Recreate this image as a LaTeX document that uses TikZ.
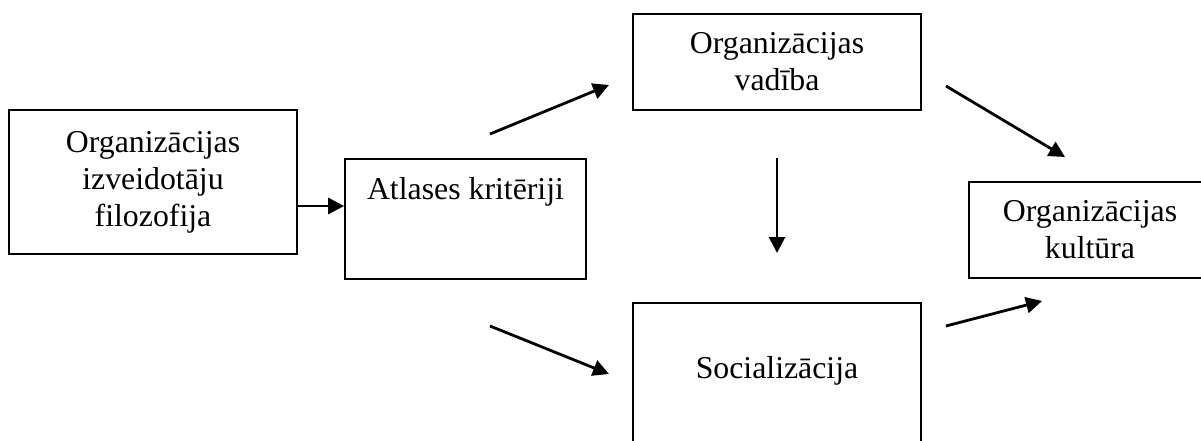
\documentclass[tikz,border=0pt]{standalone}
\usepackage{fontspec}
\setmainfont{Liberation Serif}
\usetikzlibrary{arrows.meta}
\begin{document}
\begin{tikzpicture}[x=1pt,y=-1pt,
  box/.style={draw, line width=1.7pt, inner sep=0pt, align=center,
    font=\fontsize{31.8}{37}\selectfont},
  arr/.style={line width=2.8pt, -{Triangle[length=16pt,width=16pt]}}]
\path[use as bounding box, clip] (0,0) rectangle (1201,441);
\fill[white] (0,0) rectangle (1201,441);

% boxes
\node[box, minimum width=288pt, minimum height=144pt] (fil) at (153,182)
  {Organizācijas\\izveidotāju\\filozofija};
\node[box, minimum width=241pt, text height=41pt, text depth=79pt, anchor=north]
  (atl) at (465.5,158) {Atlases kritēriji};
\node[box, minimum width=288pt, minimum height=96pt] (vad) at (777,62)
  {Organizācijas\\vadība};
\node[box, minimum width=288pt, text height=76pt, text depth=82pt, anchor=north]
  (soc) at (777,302) {Socializācija};
\node[box, minimum width=242pt, minimum height=96pt] (kul) at (1090,230)
  {Organizācijas\\kultūra};

% free arrow ends
\coordinate (filout) at (fil.east |- 0,206);
\coordinate (atlin)  at (atl.west |- 0,206);
\coordinate (atlup)  at (490,134);
\coordinate (vadin)  at (609,85);
\coordinate (atldn)  at (490,326);
\coordinate (socin)  at (609,374);
\coordinate (vaddn)  at (777,158);
\coordinate (socup)  at (777,253);
\coordinate (vadout) at (946,86);
\coordinate (kulup)  at (1065,157);
\coordinate (socout) at (946,326);
\coordinate (kuldn)  at (1042,301);

% arrows
\draw[arr] (filout) -- (atlin);
\draw[arr] (atlup) -- (vadin);
\draw[arr] (atldn) -- (socin);
\draw[arr] (vaddn) -- (socup);
\draw[arr] (vadout) -- (kulup);
\draw[arr] (socout) -- (kuldn);
\end{tikzpicture}
\end{document}
